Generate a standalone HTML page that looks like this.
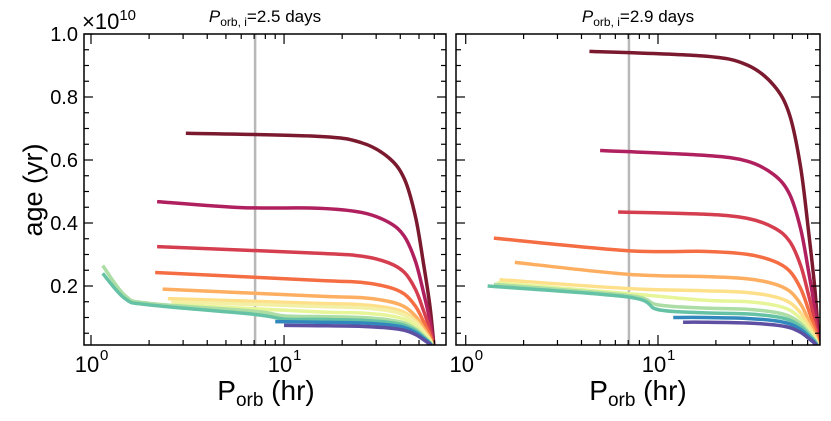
<!DOCTYPE html>
<html><head><meta charset="utf-8">
<style>
html,body{margin:0;padding:0;background:#fff;}
svg{display:block;font-family:"Liberation Sans",Arial,sans-serif;}
</style></head>
<body>
<svg id="chart" width="831" height="421" viewBox="0 0 831 421" xmlns="http://www.w3.org/2000/svg">
<text x="0" y="0" transform="translate(42,190) rotate(-90)" font-size="27" text-anchor="middle">age (yr)</text>
<text x="82" y="29" font-size="22">×10<tspan font-size="15" dy="-9">10</tspan></text>
<text x="265" y="22" font-size="17" text-anchor="middle"><tspan font-style="italic">P</tspan><tspan font-size="12" dy="4">orb, i</tspan><tspan dy="-4">=2.5 days</tspan></text>
<text x="638" y="22" font-size="17" text-anchor="middle"><tspan font-style="italic">P</tspan><tspan font-size="12" dy="4">orb, i</tspan><tspan dy="-4">=2.9 days</tspan></text>
<text x="266" y="400" font-size="28" text-anchor="middle">P<tspan font-size="19" dy="6">orb</tspan><tspan dy="-6"> (hr)</tspan></text>
<text x="638" y="400" font-size="28" text-anchor="middle">P<tspan font-size="19" dy="6">orb</tspan><tspan dy="-6"> (hr)</tspan></text>
<g id="panels"></g>
</svg>
<script>
const yTicks = [0.2, 0.4, 0.6, 0.8, 1.0];
const yTickLabels = ["0.2", "0.4", "0.6", "0.8", "1.0"];
const xMajor = [1, 10];
const xMajorLabels = ["10", "10"];
const dropRatio = [0.25, 0.42, 0.58, 0.7, 0.8, 0.88, 0.95, 1];
const dropFrac = [1, 0.97, 0.9, 0.8, 0.62, 0.4, 0.2, 0];
const endP = [60, 69];
const leftColors = ["#7b1a2e","#b0205e","#d53e4f","#f46d43","#fdae61","#fee08b","#f3efa4","#e6f598","#abdda4","#66c2a5","#3288bd","#5e4fa2"];
const leftStartP = [[3.1],[2.2,6],[2.2],[2.15],[2.35],[2.5],[2.6],[2.7],[1.15,1.5,2,7,10],[1.15,1.5,2,7,10],[9],[10]];
const leftStartAge = [[0.685],[0.468,0.449],[0.325],[0.243],[0.19],[0.16],[0.15],[0.14],[0.265,0.17,0.145,0.12,0.105],[0.24,0.16,0.14,0.11,0.095],[0.087],[0.075]];
const leftPlateau = [0.675,0.447,0.304,0.218,0.168,0.145,0.135,0.118,0.103,0.094,0.085,0.074];
const rightColors = ["#7b1a2e","#b0205e","#d53e4f","#f46d43","#fdae61","#fee08b","#e6f598","#abdda4","#66c2a5","#3288bd","#5e4fa2"];
const rightStartP = [[4.4],[5],[6.2],[1.4,7],[1.8,7],[1.5,7],[1.45,7],[1.4,7,10],[1.3,7,10],[12],[13.5]];
const rightStartAge = [[0.945],[0.63],[0.435],[0.352,0.312],[0.275,0.237],[0.22,0.192],[0.21,0.176],[0.205,0.17,0.14],[0.2,0.165,0.125],[0.1],[0.085]];
const rightPlateau = [0.93,0.615,0.428,0.31,0.23,0.185,0.155,0.13,0.115,0.1,0.085];
const vLineP = [7.08, 7.06];

const NS="http://www.w3.org/2000/svg";
const root=document.getElementById('panels');
function mk(tag,attrs,parent){const e=document.createElementNS(NS,tag);for(const k in attrs)e.setAttribute(k,attrs[k]);(parent||root).appendChild(e);return e;}
const plotTop=34, plotBot=345;
function yScale(v){return 349-315*v;}
function drawPanel(x0,x1,xmin,xmax,colors,sP,sA,plat,vline,pEnd,showY,name){
  const g=mk('g',{});
  
  
  const lx=Math.log10(xmin), hx=Math.log10(xmax);
  const xs=p=>x0+(Math.log10(p)-lx)/(hx-lx)*(x1-x0);
  const clip=mk('clipPath',{id:'c'+name},g);
  mk('rect',{x:x0,y:plotTop,width:x1-x0,height:plotBot-plotTop},clip);
  const vl=mk('line',{x1:xs(vline),x2:xs(vline),y1:plotTop,y2:plotBot,stroke:'#b8b8b8','stroke-width':2.5},g);
  
  
  const cg=mk('g',{'clip-path':'url(#c'+name+')'},g);
  for(let i=0;i<colors.length;i++){
    const pts=[];
    for(let j=0;j<sP[i].length;j++)pts.push([xs(sP[i][j]),yScale(sA[i][j])]);
    const last=sP[i][sP[i].length-1];
    for(let k=0;k<dropRatio.length;k++){ const p=dropRatio[k]*pEnd; if(p>last+2) pts.push([xs(p),yScale(plat[i]*dropFrac[k])]); }
    let d='M'+pts[0][0]+','+pts[0][1];
    for(let k=0;k<pts.length-1;k++){
      const p0=pts[Math.max(0,k-1)],p1=pts[k],p2=pts[k+1],p3=pts[Math.min(pts.length-1,k+2)];
      const c1=[p1[0]+(p2[0]-p0[0])/6,p1[1]+(p2[1]-p0[1])/6];
      const c2=[p2[0]-(p3[0]-p1[0])/6,p2[1]-(p3[1]-p1[1])/6];
      d+=' C'+c1[0]+','+c1[1]+' '+c2[0]+','+c2[1]+' '+p2[0]+','+p2[1];
    }
    const path=mk('path',{d:d,fill:'none',stroke:colors[i],'stroke-width':3.5,'stroke-linejoin':'round'},cg);
    
    
  }
  const fr=mk('rect',{x:x0,y:plotTop,width:x1-x0,height:plotBot-plotTop,fill:'none',stroke:'#000','stroke-width':1.5},g);
  
  
  for(let k=1;k<=20;k++){
    const v=k*0.05, y=yScale(v), major=(k%4===0);
    const L=major?9:5;
    mk('line',{x1:x0,x2:x0+L,y1:y,y2:y,stroke:'#000','stroke-width':1.2},g);
    mk('line',{x1:x1,x2:x1-L,y1:y,y2:y,stroke:'#000','stroke-width':1.2},g);
  }
  if(showY){
    for(let i=0;i<yTicks.length;i++){
      const t=mk('text',{x:x0-6,y:yScale(yTicks[i])+7,'font-size':20,'text-anchor':'end'},g);
      t.textContent=yTickLabels[i];
      
      
    }
  }
  for(let dec=0;dec<2;dec++){
    for(let m=1;m<10;m++){
      const p=m*Math.pow(10,dec); if(p<xmin||p>xmax)continue;
      const x=xs(p), L=m===1?10:5;
      mk('line',{x1:x,x2:x,y1:plotBot,y2:plotBot-L,stroke:'#000','stroke-width':1.2},g);
      mk('line',{x1:x,x2:x,y1:plotTop,y2:plotTop+L,stroke:'#000','stroke-width':1.2},g);
    }
  }
  for(let i=0;i<xMajor.length;i++){
    const x=xs(xMajor[i]);
    const t=mk('text',{x:x-4,y:372,'font-size':22,'text-anchor':'middle'},g);
    t.textContent=xMajorLabels[i];
    
    
    const s=mk('text',{x:x+9,y:360,'font-size':15},g);
    s.textContent=String(Math.round(Math.log10(xMajor[i])));
  }
}
drawPanel(84,446,0.92,69,leftColors,leftStartP,leftStartAge,leftPlateau,vLineP[0],endP[0],true,'left-panel');
drawPanel(456,820,0.89,69.6,rightColors,rightStartP,rightStartAge,rightPlateau,vLineP[1],endP[1],false,'right-panel');
</script>
</body></html>
